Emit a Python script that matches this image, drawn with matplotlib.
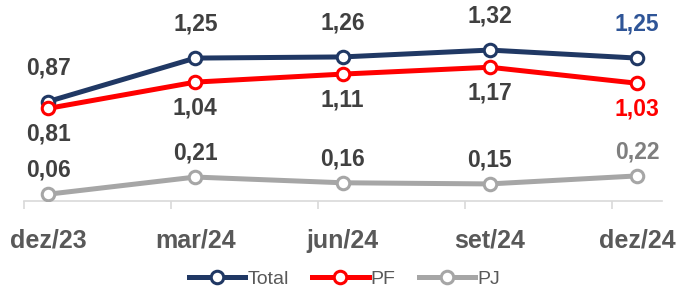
import matplotlib
matplotlib.use('Agg')
import matplotlib.pyplot as plt
import matplotlib.ticker as ticker

# ── data ────────────────────────────────────────────────────────────────
PERIODS = ['dez/23', 'mar/24', 'jun/24', 'set/24', 'dez/24']
MONTHS  = [0, 3, 6, 9, 12]          # months since dez/23
TOTAL   = [0.87, 1.25, 1.26, 1.32, 1.25]
PF      = [0.81, 1.04, 1.11, 1.17, 1.03]
PJ      = [0.06, 0.21, 0.16, 0.15, 0.22]

# ── colours ─────────────────────────────────────────────────────────────
C_TOT   = '#203864'
C_PF    = '#FF0000'
C_PJ    = '#A6A6A6'
C_LBL   = '#404040'
C_TICK  = '#595959'
C_AXIS  = '#D9D9D9'

plt.rcParams['font.family'] = ['Liberation Sans', 'DejaVu Sans']

fig = plt.figure(figsize=(6.78, 2.91), dpi=100)
ax = fig.add_axes([0.0347, 0.309, 0.941, 0.629])

series = [
    ('Total', TOTAL, C_TOT, 34, '#2F5597'),
    ('PF',    PF,    C_PF, -26, C_PF),
    ('PJ',    PJ,    C_PJ,  24, '#7F7F7F'),
]

for name, vals, col, dy, last_col in series:
    ax.plot(MONTHS, vals, color=col, lw=3.6, marker='o', ms=9,
            mfc='white', mec=col, mew=2.2, label=name, zorder=3)
    for i, (x, v) in enumerate(zip(MONTHS, vals)):
        ax.annotate(f'{v:.2f}'.replace('.', ','), (x, v),
                    xytext=(0, dy), textcoords='offset pixels',
                    ha='center', va='center', fontsize=16.5,
                    fontweight='bold',
                    color=last_col if i == len(vals) - 1 else C_LBL,
                    annotation_clip=False)

ax.set_xlim(-0.5, 12.5)
ax.set_ylim(0, 1.6)

ax.set_xticks(MONTHS)
ax.set_xticklabels(PERIODS)
ax.xaxis.set_minor_locator(ticker.FixedLocator([m - 0.5 for m in MONTHS]))
ax.tick_params(axis='x', which='major', length=0, pad=20,
               labelsize=18, labelcolor=C_TICK)
for t in ax.get_xticklabels():
    t.set_fontweight('bold')
ax.tick_params(axis='x', which='minor', length=5.5, width=1.2, color=C_AXIS)
ax.set_yticks([])

for sp in ['top', 'right', 'left']:
    ax.spines[sp].set_visible(False)
ax.spines['bottom'].set_color(C_AXIS)
ax.spines['bottom'].set_linewidth(1.2)

fig.legend(loc='center', bbox_to_anchor=(0.508, 0.04), ncol=3,
           frameon=False, fontsize=14, handlelength=2.9,
           handletextpad=0.1, columnspacing=1.2, labelcolor=C_TICK)

fig.savefig('out.png', dpi=100)
